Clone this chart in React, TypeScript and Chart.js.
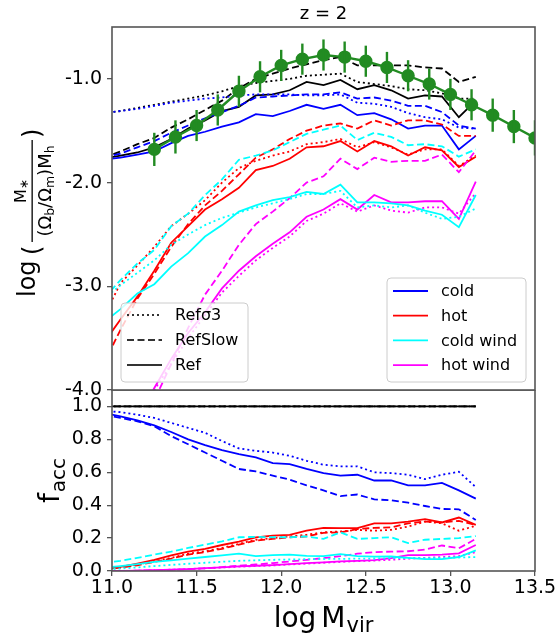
import React, { useEffect, useRef } from 'react';
import { Chart, registerables } from 'chart.js';

Chart.register(...registerables);

// ---------- data ----------
const X_SIM = [10.95, 11.05, 11.15, 11.25, 11.35, 11.45, 11.55, 11.65, 11.75, 11.85, 11.95, 12.05, 12.15, 12.25, 12.35, 12.45, 12.55, 12.65, 12.75, 12.85, 12.95, 13.05, 13.15];

// top panel: log(M*/((Ob/Om)Mh))
const TOT_REF = [-1.77, -1.74, -1.71, -1.66, -1.58, -1.48, -1.40, -1.31, -1.27, -1.16, -1.15, -1.11, -1.03, -1.06, -1.01, -1.10, -1.06, -1.11, -1.19, -1.16, -1.17, -1.37, -1.21];
const TOT_SLOW = [-1.76, -1.70, -1.63, -1.57, -1.47, -1.39, -1.30, -1.21, -1.09, -1.00, -0.95, -0.90, -0.86, -0.82, -0.79, -0.87, -0.87, -0.87, -0.87, -0.89, -0.90, -1.03, -0.98];
const TOT_S3 = [-1.33, -1.31, -1.28, -1.25, -1.22, -1.19, -1.16, -1.12, -1.07, -1.04, -1.02, -1.00, -0.97, -0.96, -0.95, -1.03, -1.05, -1.07, -1.10, -1.11, -1.14, -1.19, -1.19];

const COLD_REF = [-1.78, -1.76, -1.73, -1.70, -1.62, -1.55, -1.51, -1.46, -1.42, -1.34, -1.36, -1.31, -1.25, -1.29, -1.25, -1.35, -1.33, -1.39, -1.48, -1.45, -1.45, -1.68, -1.55];
const COLD_SLOW = [-1.76, -1.72, -1.66, -1.60, -1.52, -1.45, -1.38, -1.32, -1.26, -1.18, -1.17, -1.16, -1.15, -1.15, -1.13, -1.19, -1.18, -1.21, -1.26, -1.26, -1.32, -1.45, -1.48];
const COLD_S3 = [-1.33, -1.31, -1.29, -1.26, -1.23, -1.21, -1.19, -1.18, -1.16, -1.15, -1.15, -1.15, -1.16, -1.16, -1.15, -1.23, -1.24, -1.27, -1.33, -1.37, -1.39, -1.47, -1.48];

const HOT_REF = [-3.55, -3.32, -3.10, -2.85, -2.58, -2.42, -2.26, -2.16, -2.05, -1.88, -1.84, -1.77, -1.66, -1.65, -1.60, -1.70, -1.60, -1.65, -1.74, -1.66, -1.69, -1.85, -1.75];
const HOT_SLOW = [-3.75, -3.42, -3.12, -2.88, -2.62, -2.40, -2.22, -2.08, -1.92, -1.76, -1.68, -1.58, -1.50, -1.45, -1.43, -1.48, -1.40, -1.45, -1.40, -1.40, -1.44, -1.55, -1.55];
const HOT_S3 = [-3.30, -2.97, -2.80, -2.62, -2.42, -2.30, -2.17, -2.00, -1.86, -1.79, -1.74, -1.70, -1.63, -1.61, -1.58, -1.66, -1.61, -1.66, -1.73, -1.68, -1.68, -1.84, -1.74];

const CW_REF = [-3.35, -3.22, -3.07, -2.98, -2.81, -2.68, -2.52, -2.41, -2.28, -2.22, -2.17, -2.14, -2.09, -2.11, -2.02, -2.19, -2.19, -2.20, -2.22, -2.27, -2.31, -2.43, -2.12];
const CW_SLOW = [-3.12, -2.94, -2.78, -2.65, -2.42, -2.30, -2.12, -1.97, -1.78, -1.74, -1.69, -1.61, -1.53, -1.49, -1.45, -1.59, -1.52, -1.56, -1.64, -1.63, -1.65, -1.75, -1.68];
const CW_S3 = [-3.12, -2.99, -2.87, -2.75, -2.60, -2.50, -2.41, -2.34, -2.29, -2.24, -2.20, -2.16, -2.11, -2.11, -2.08, -2.24, -2.22, -2.24, -2.22, -2.29, -2.35, -2.33, -2.25];

const HW_REF = [-4.9, -4.6, -4.3, -3.98, -3.7, -3.45, -3.25, -3.02, -2.85, -2.71, -2.59, -2.48, -2.33, -2.26, -2.16, -2.26, -2.12, -2.19, -2.19, -2.18, -2.18, -2.35, -1.99];
const HW_SLOW = [-5.3, -4.9, -4.5, -4.1, -3.75, -3.4, -3.08, -2.85, -2.6, -2.4, -2.28, -2.15, -2.0, -1.94, -1.77, -1.87, -1.76, -1.80, -1.79, -1.79, -1.73, -1.90, -1.69];
const HW_S3 = [-5.0, -4.7, -4.35, -4.0, -3.75, -3.5, -3.28, -3.06, -2.9, -2.75, -2.63, -2.52, -2.37, -2.30, -2.20, -2.28, -2.22, -2.27, -2.29, -2.24, -2.24, -2.30, -2.10];

// observations (green)
const OBS_X = [11.25, 11.375, 11.5, 11.625, 11.75, 11.875, 12.0, 12.125, 12.25, 12.375, 12.5, 12.625, 12.75, 12.875, 13.0, 13.125, 13.25, 13.375, 13.5];
const OBS_Y = [-1.68, -1.56, -1.45, -1.30, -1.12, -0.98, -0.87, -0.81, -0.77, -0.79, -0.83, -0.89, -0.97, -1.05, -1.15, -1.25, -1.35, -1.46, -1.57];
const OBS_ERR = [0.16, 0.16, 0.15, 0.15, 0.15, 0.15, 0.15, 0.15, 0.15, 0.15, 0.15, 0.15, 0.15, 0.15, 0.15, 0.15, 0.16, 0.16, 0.17];

// bottom panel: f_acc
const F_TOTAL = [1, 1, 1, 1, 1, 1, 1, 1, 1, 1, 1, 1, 1, 1, 1, 1, 1, 1, 1, 1, 1, 1, 1];
const F_COLD_REF = [0.96, 0.94, 0.915, 0.885, 0.845, 0.80, 0.765, 0.735, 0.71, 0.69, 0.655, 0.65, 0.62, 0.595, 0.58, 0.585, 0.55, 0.55, 0.52, 0.52, 0.535, 0.49, 0.44];
const F_COLD_SLOW = [0.95, 0.93, 0.91, 0.88, 0.82, 0.77, 0.72, 0.67, 0.62, 0.605, 0.58, 0.555, 0.52, 0.49, 0.455, 0.465, 0.435, 0.43, 0.415, 0.395, 0.377, 0.375, 0.31];
const F_COLD_S3 = [0.975, 0.965, 0.95, 0.93, 0.90, 0.87, 0.84, 0.79, 0.745, 0.73, 0.72, 0.70, 0.67, 0.646, 0.636, 0.636, 0.60, 0.595, 0.585, 0.558, 0.585, 0.603, 0.51];
const F_HOT_REF = [0.01, 0.025, 0.045, 0.067, 0.095, 0.118, 0.135, 0.158, 0.178, 0.205, 0.215, 0.22, 0.245, 0.262, 0.26, 0.26, 0.29, 0.29, 0.30, 0.315, 0.295, 0.325, 0.28];
const F_HOT_SLOW = [0.01, 0.02, 0.035, 0.055, 0.075, 0.10, 0.115, 0.135, 0.16, 0.185, 0.195, 0.205, 0.21, 0.232, 0.235, 0.255, 0.262, 0.265, 0.29, 0.30, 0.295, 0.305, 0.28];
const F_HOT_S3 = [0.01, 0.02, 0.04, 0.06, 0.08, 0.105, 0.12, 0.14, 0.165, 0.19, 0.20, 0.21, 0.22, 0.235, 0.24, 0.25, 0.245, 0.25, 0.27, 0.30, 0.29, 0.245, 0.275];
const F_CW_REF = [0.02, 0.03, 0.042, 0.055, 0.065, 0.075, 0.085, 0.095, 0.105, 0.09, 0.097, 0.10, 0.092, 0.09, 0.103, 0.09, 0.087, 0.088, 0.08, 0.072, 0.072, 0.085, 0.125];
const F_CW_SLOW = [0.05, 0.062, 0.08, 0.10, 0.118, 0.14, 0.16, 0.18, 0.205, 0.208, 0.205, 0.205, 0.21, 0.195, 0.235, 0.195, 0.20, 0.205, 0.17, 0.19, 0.195, 0.20, 0.212];
const F_CW_S3 = [0.01, 0.015, 0.022, 0.03, 0.037, 0.044, 0.05, 0.056, 0.062, 0.065, 0.068, 0.07, 0.072, 0.073, 0.074, 0.075, 0.076, 0.078, 0.078, 0.078, 0.08, 0.082, 0.085];
const F_HW_REF = [0, 0, 0.002, 0.005, 0.008, 0.012, 0.017, 0.022, 0.028, 0.032, 0.036, 0.042, 0.048, 0.052, 0.058, 0.062, 0.066, 0.078, 0.097, 0.097, 0.10, 0.107, 0.158];
const F_HW_SLOW = [0, 0, 0.002, 0.004, 0.007, 0.011, 0.016, 0.024, 0.032, 0.04, 0.048, 0.058, 0.068, 0.078, 0.09, 0.105, 0.115, 0.118, 0.12, 0.13, 0.155, 0.138, 0.195];
const F_HW_S3 = [0, 0, 0.002, 0.005, 0.008, 0.012, 0.016, 0.021, 0.026, 0.03, 0.034, 0.04, 0.045, 0.05, 0.055, 0.06, 0.063, 0.068, 0.075, 0.08, 0.085, 0.09, 0.115];

const TOP_TICKS = [-4, -3, -2, -1];
const BOT_TICKS = [0, 0.2, 0.4, 0.6, 0.8, 1.0];
const STYLE_LABELS = ['Refσ3', 'RefSlow', 'Ref'];
const COMP_LABELS = ['cold', 'hot', 'cold wind', 'hot wind'];

// ---------- styles ----------
const FONT = '"DejaVu Sans", sans-serif';
const BLUE = '#0000ff';
const RED = '#ff0000';
const CYAN = '#00ffff';
const MAGENTA = '#ff00ff';
const BLACK = '#000000';
const GREEN = '#228b22';
const FRAME = '#555555';
const SOLID: number[] = [];
const DASH = [7, 3.5];
const DOT = [2, 3];
const STYLE_DASHES = [DOT, DASH, SOLID];
const COMP_COLORS = [BLUE, RED, CYAN, MAGENTA];

function lineDs(ys: number[], color: string, dash: number[]) {
  return {
    type: 'line',
    data: X_SIM.map((x, i) => ({ x, y: ys[i] })),
    borderColor: color,
    backgroundColor: color,
    borderWidth: 1.8,
    borderDash: dash,
    borderCapStyle: 'butt',
    pointRadius: 0,
    fill: false,
    tension: 0,
  };
}

function drawFrame(ctx: CanvasRenderingContext2D, ca: any) {
  ctx.save();
  ctx.strokeStyle = FRAME;
  ctx.lineWidth = 1.6;
  ctx.strokeRect(ca.left, ca.top, ca.right - ca.left, ca.bottom - ca.top);
  ctx.restore();
}

function roundBox(ctx: CanvasRenderingContext2D, x: number, y: number, w: number, h: number, r: number) {
  ctx.save();
  ctx.beginPath();
  ctx.moveTo(x + r, y);
  ctx.lineTo(x + w - r, y);
  ctx.quadraticCurveTo(x + w, y, x + w, y + r);
  ctx.lineTo(x + w, y + h - r);
  ctx.quadraticCurveTo(x + w, y + h, x + w - r, y + h);
  ctx.lineTo(x + r, y + h);
  ctx.quadraticCurveTo(x, y + h, x, y + h - r);
  ctx.lineTo(x, y + r);
  ctx.quadraticCurveTo(x, y, x + r, y);
  ctx.closePath();
  ctx.fillStyle = 'rgba(255,255,255,0.8)';
  ctx.fill();
  ctx.strokeStyle = '#cccccc';
  ctx.lineWidth = 1;
  ctx.stroke();
  ctx.restore();
}

function legendEntry(ctx: CanvasRenderingContext2D, x0: number, x1: number, tx: number, y: number, color: string, dash: number[], label: string) {
  ctx.save();
  ctx.strokeStyle = color;
  ctx.lineWidth = 1.8;
  ctx.setLineDash(dash);
  ctx.beginPath();
  ctx.moveTo(x0, y);
  ctx.lineTo(x1, y);
  ctx.stroke();
  ctx.setLineDash([]);
  ctx.fillStyle = '#000';
  ctx.font = `16px ${FONT}`;
  ctx.textAlign = 'left';
  ctx.textBaseline = 'middle';
  ctx.fillText(label, tx, y + 1);
  ctx.restore();
}

function drawPieces(ctx: CanvasRenderingContext2D, pieces: [string, number, number][], uCenter: number, base: number) {
  let total = 0;
  const widths = pieces.map(([t, s]) => {
    ctx.font = `${s}px ${FONT}`;
    const w = ctx.measureText(t).width;
    total += w;
    return w;
  });
  let u = uCenter - total / 2;
  pieces.forEach(([t, s, off], i) => {
    ctx.font = `${s}px ${FONT}`;
    ctx.fillText(t, u, base + off);
    u += widths[i];
  });
}

function drawTopYLabel(ctx: CanvasRenderingContext2D) {
  ctx.save();
  ctx.translate(0, 297);
  ctx.rotate(-Math.PI / 2);
  ctx.fillStyle = '#000';
  ctx.textAlign = 'left';
  ctx.textBaseline = 'alphabetic';
  ctx.font = `24px ${FONT}`;
  ctx.fillText('log', 0, 35);
  ctx.fillText('(', 42, 40);
  const f0 = 55;
  const f1 = 157;
  ctx.fillRect(f0, 31.5, f1 - f0, 1.3);
  drawPieces(ctx, [['M', 16, 0], ['∗', 12, 2]], (f0 + f1) / 2, 26);
  drawPieces(
    ctx,
    [['(', 18, 0], ['Ω', 18, 0], ['b', 12.5, 3], ['/', 18, 0], ['Ω', 18, 0], ['m', 12.5, 3], [')', 18, 0], ['M', 18, 0], ['h', 12.5, 3]],
    (f0 + f1) / 2,
    51
  );
  ctx.font = `24px ${FONT}`;
  ctx.fillText(')', 159, 40);
  ctx.restore();
}

const topDeco = {
  id: 'topDeco',
  afterDatasetsDraw(chart: any) {
    const { ctx, chartArea: ca, scales } = chart;
    const xs = scales.x;
    const ys = scales.y;
    // error bars of observations
    ctx.save();
    ctx.beginPath();
    ctx.rect(ca.left, ca.top, ca.right - ca.left, ca.bottom - ca.top);
    ctx.clip();
    ctx.strokeStyle = GREEN;
    ctx.lineWidth = 2.4;
    OBS_X.forEach((x, i) => {
      const px = xs.getPixelForValue(x);
      ctx.beginPath();
      ctx.moveTo(px, ys.getPixelForValue(OBS_Y[i] - OBS_ERR[i]));
      ctx.lineTo(px, ys.getPixelForValue(OBS_Y[i] + OBS_ERR[i]));
      ctx.stroke();
    });
    ctx.restore();

    drawFrame(ctx, ca);

    // legend: run styles
    roundBox(ctx, 121, 303, 127, 79, 4);
    STYLE_LABELS.forEach((lab, i) => {
      legendEntry(ctx, 127, 162, 175, 315 + i * 25, '#333333', STYLE_DASHES[i], lab);
    });
    // legend: components
    roundBox(ctx, 387, 278, 139, 104, 4);
    COMP_LABELS.forEach((lab, i) => {
      legendEntry(ctx, 393, 428, 441, 291 + i * 24.7, COMP_COLORS[i], SOLID, lab);
    });
  },
  afterDraw(chart: any) {
    const { ctx, chartArea: ca } = chart;
    ctx.save();
    ctx.fillStyle = '#000';
    ctx.font = `18px ${FONT}`;
    ctx.textAlign = 'center';
    ctx.textBaseline = 'alphabetic';
    ctx.fillText('z = 2', (ca.left + ca.right) / 2, 19);
    ctx.restore();
    drawTopYLabel(ctx);
  },
};

const botDeco = {
  id: 'botDeco',
  afterDatasetsDraw(chart: any) {
    drawFrame(chart.ctx, chart.chartArea);
  },
  afterDraw(chart: any) {
    const { ctx, chartArea: ca } = chart;
    // y label f_acc
    ctx.save();
    ctx.translate(0, 113);
    ctx.rotate(-Math.PI / 2);
    ctx.fillStyle = '#000';
    ctx.textAlign = 'left';
    ctx.textBaseline = 'alphabetic';
    ctx.font = `28px ${FONT}`;
    ctx.fillText('f', 0, 59);
    const wf = ctx.measureText('f').width;
    ctx.font = `20px ${FONT}`;
    ctx.fillText('acc', wf + 1, 65);
    ctx.restore();
    // x label log M_vir
    ctx.save();
    ctx.fillStyle = '#000';
    ctx.textAlign = 'left';
    ctx.textBaseline = 'alphabetic';
    ctx.font = `28px ${FONT}`;
    const wLog = ctx.measureText('log').width;
    const wM = ctx.measureText('M').width;
    ctx.font = `21px ${FONT}`;
    const wVir = ctx.measureText('vir').width;
    const total = wLog + 5 + wM + 1 + wVir;
    let x = (ca.left + ca.right) / 2 - total / 2;
    ctx.font = `28px ${FONT}`;
    ctx.fillText('log', x, 237);
    x += wLog + 5;
    ctx.fillText('M', x, 237);
    x += wM + 1;
    ctx.font = `21px ${FONT}`;
    ctx.fillText('vir', x, 242);
    ctx.restore();
  },
};

function yScale(min: number, max: number, ticks: number[]) {
  return {
    type: 'linear',
    min,
    max,
    afterBuildTicks: (s: any) => {
      s.ticks = ticks.map((v) => ({ value: v }));
    },
    afterFit: (s: any) => {
      s.width = 112;
      s.paddingTop = 0;
      s.paddingBottom = 0;
    },
    ticks: {
      font: { family: FONT, size: 19 },
      color: '#000',
      padding: 5,
      callback: (v: any) => Number(v).toFixed(1),
    },
    grid: { drawOnChartArea: false, drawTicks: true, tickLength: 5, color: FRAME, lineWidth: 1.3 },
    border: { display: false },
  };
}

export default function App() {
  const topRef = useRef<HTMLCanvasElement | null>(null);
  const botRef = useRef<HTMLCanvasElement | null>(null);

  useEffect(() => {
    if (!topRef.current || !botRef.current) return;

    const topDatasets: any[] = [
      {
        type: 'line',
        data: OBS_X.map((x, i) => ({ x, y: OBS_Y[i] })),
        borderColor: GREEN,
        backgroundColor: GREEN,
        pointBackgroundColor: GREEN,
        pointBorderColor: GREEN,
        pointRadius: 5.5,
        borderWidth: 2.4,
        tension: 0,
        fill: false,
        clip: 0,
      },
      lineDs(CW_S3, CYAN, DOT), lineDs(CW_SLOW, CYAN, DASH), lineDs(CW_REF, CYAN, SOLID),
      lineDs(HW_S3, MAGENTA, DOT), lineDs(HW_SLOW, MAGENTA, DASH), lineDs(HW_REF, MAGENTA, SOLID),
      lineDs(HOT_S3, RED, DOT), lineDs(HOT_SLOW, RED, DASH), lineDs(HOT_REF, RED, SOLID),
      lineDs(COLD_S3, BLUE, DOT), lineDs(COLD_SLOW, BLUE, DASH), lineDs(COLD_REF, BLUE, SOLID),
      lineDs(TOT_S3, BLACK, DOT), lineDs(TOT_SLOW, BLACK, DASH), lineDs(TOT_REF, BLACK, SOLID),
    ];

    const botDatasets: any[] = [
      lineDs(F_CW_S3, CYAN, DOT), lineDs(F_CW_SLOW, CYAN, DASH), lineDs(F_CW_REF, CYAN, SOLID),
      lineDs(F_HW_S3, MAGENTA, DOT), lineDs(F_HW_SLOW, MAGENTA, DASH), lineDs(F_HW_REF, MAGENTA, SOLID),
      lineDs(F_HOT_S3, RED, DOT), lineDs(F_HOT_SLOW, RED, DASH), lineDs(F_HOT_REF, RED, SOLID),
      lineDs(F_COLD_S3, BLUE, DOT), lineDs(F_COLD_SLOW, BLUE, DASH), lineDs(F_COLD_REF, BLUE, SOLID),
      lineDs(F_TOTAL, BLACK, DOT), lineDs(F_TOTAL, BLACK, DASH), lineDs(F_TOTAL, BLACK, SOLID),
    ];

    const common = {
      animation: false,
      responsive: false,
      maintainAspectRatio: false,
      devicePixelRatio: 1,
      events: [],
    };

    const top = new Chart(topRef.current, {
      type: 'line',
      data: { datasets: topDatasets },
      options: {
        ...common,
        layout: { padding: { top: 27, right: 25, bottom: 10, left: 0 } },
        plugins: { legend: { display: false }, tooltip: { enabled: false }, title: { display: false } },
        scales: {
          x: { type: 'linear', min: 11, max: 13.5, display: false },
          y: yScale(-4, -0.5, TOP_TICKS),
        },
      } as any,
      plugins: [topDeco],
    });

    const bot = new Chart(botRef.current, {
      type: 'line',
      data: { datasets: botDatasets },
      options: {
        ...common,
        layout: { padding: { top: 0, right: 25, bottom: 0, left: 0 } },
        plugins: { legend: { display: false }, tooltip: { enabled: false }, title: { display: false } },
        scales: {
          x: {
            type: 'linear',
            min: 11,
            max: 13.5,
            afterBuildTicks: (s: any) => {
              s.ticks = [11, 11.5, 12, 12.5, 13, 13.5].map((v) => ({ value: v }));
            },
            afterFit: (s: any) => {
              s.height = 65;
              s.paddingLeft = 0;
              s.paddingRight = 0;
            },
            ticks: {
              font: { family: FONT, size: 19 },
              color: '#000',
              padding: 1,
              maxRotation: 0,
              autoSkip: false,
              callback: (v: any) => Number(v).toFixed(1),
            },
            grid: { drawOnChartArea: false, drawTicks: true, tickLength: 5, color: FRAME, lineWidth: 1.3 },
            border: { display: false },
          },
          y: yScale(0, 1.1, BOT_TICKS),
        },
      } as any,
      plugins: [botDeco],
    });

    return () => {
      top.destroy();
      bot.destroy();
    };
  }, []);

  return (
    <div style={{ position: 'absolute', left: 0, top: 0, width: 560, height: 636, background: '#fff' }}>
      <canvas ref={topRef} width={560} height={400} style={{ position: 'absolute', left: 0, top: 0, width: 560, height: 400 }} />
      <canvas ref={botRef} width={560} height={246} style={{ position: 'absolute', left: 0, top: 390, width: 560, height: 246 }} />
    </div>
  );
}
